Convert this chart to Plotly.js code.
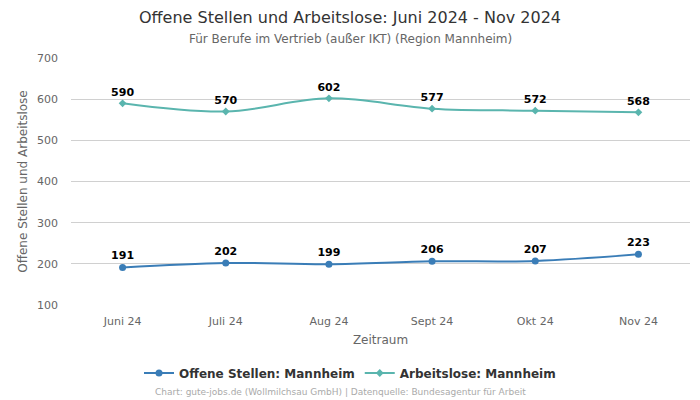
<!DOCTYPE html>
<html><head><meta charset="utf-8">
<script src="https://cdn.plot.ly/plotly-3.0.1.min.js"></script>
<style>body{margin:0;background:#fff}#c{width:700px;height:400px}</style>
</head><body><div id="c"></div>
<script>
const categories = ["Juni 24","Juli 24","Aug 24","Sept 24","Okt 24","Nov 24"];
const offeneStellen = [191,202,199,206,207,223];
const arbeitslose = [590,570,602,577,572,568];
const yTicks = [100,200,300,400,500,600,700];

const font = "DejaVu Sans, Verdana, sans-serif";
const traces = [
  {x: categories, y: offeneStellen, name: "Offene Stellen: Mannheim", type: "scatter", mode: "lines+markers+text",
   line: {color: "#3a7db7", width: 2, shape: "spline"}, marker: {color: "#3a7db7", size: 7, symbol: "circle"},
   text: offeneStellen.map(String), textposition: "top center",
   textfont: {family: font, size: 11, color: "#000", weight: "bold"}},
  {x: categories, y: arbeitslose, name: "Arbeitslose: Mannheim", type: "scatter", mode: "lines+markers+text",
   line: {color: "#5ab5ae", width: 2, shape: "spline"}, marker: {color: "#5ab5ae", size: 6, symbol: "diamond"},
   text: arbeitslose.map(String), textposition: "top center",
   textfont: {family: font, size: 11, color: "#000", weight: "bold"}}
];
const H = 247;
const py = p => (305 - p) / H;
const px = p => (p - 71) / 619;
const layout = {
  width: 700, height: 400, margin: {l: 71, r: 10, t: 58, b: 95, autoexpand: false},
  paper_bgcolor: "#fff", plot_bgcolor: "#fff",
  font: {family: font, color: "#666", size: 11},
  xaxis: {type: "category", range: [-0.5, 5.5], showgrid: false, zeroline: false, showline: false,
          ticks: "", tickfont: {size: 11, color: "#666"}, ticklabelstandoff: 8, automargin: false,
          title: {text: "Zeitraum", font: {size: 12, color: "#666"}, standoff: 8}},
  yaxis: {range: [100, 700], tickvals: yTicks, showgrid: true, gridcolor: "#d0d0d0", zeroline: false,
          tickfont: {size: 11, color: "#666"}, ticks: "", ticklabelstandoff: 12, automargin: false,
          title: {text: "Offene Stellen und Arbeitslose", font: {size: 12, color: "#666"}, standoff: 6}},
  legend: {orientation: "h", x: px(350), xanchor: "center", y: py(373), yanchor: "middle",
           font: {size: 12, color: "#333", weight: "bold"}},
  showlegend: true,
  annotations: [
    {text: "Offene Stellen und Arbeitslose: Juni 2024 - Nov 2024", xref: "paper", yref: "paper",
     x: px(350), y: py(17), xanchor: "center", yanchor: "middle", showarrow: false,
     font: {size: 16, color: "#333"}},
    {text: "Für Berufe im Vertrieb (außer IKT) (Region Mannheim)", xref: "paper", yref: "paper",
     x: px(350), y: py(39), xanchor: "center", yanchor: "middle", showarrow: false,
     font: {size: 12, color: "#666"}},
    {text: "Chart: gute-jobs.de (Wollmilchsau GmbH) | Datenquelle: Bundesagentur für Arbeit",
    xref: "paper", yref: "paper", x: px(340), y: py(392), xanchor: "center", yanchor: "middle", showarrow: false,
    font: {size: 9, color: "#aaa"}}]
};
Plotly.newPlot("c", traces, layout, {displayModeBar: false, staticPlot: true});
</script></body></html>
